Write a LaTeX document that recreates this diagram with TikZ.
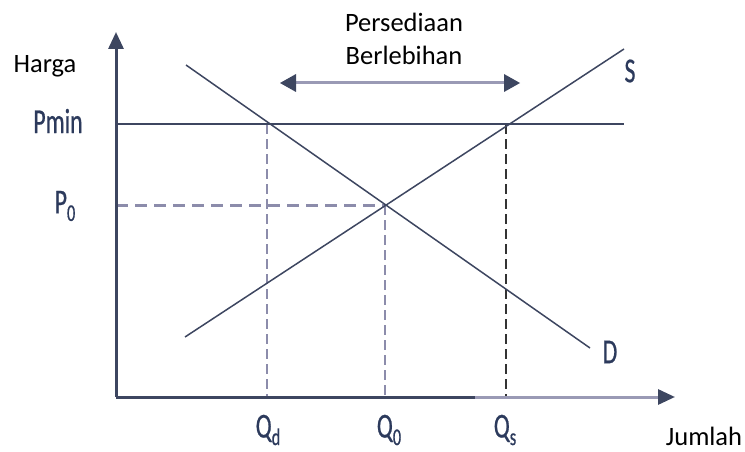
\documentclass[tikz,border=0pt]{standalone}
\usepackage{fontspec}
\setmainfont{Carlito}
\newfontfamily\condfont[FakeStretch=0.68,FakeBold=0.6]{Carlito}
\usetikzlibrary{arrows.meta,calc}
\definecolor{lineclr}{HTML}{3D4660}
\definecolor{labclr}{HTML}{2C3A5C}
\definecolor{lav}{HTML}{8C8CAB}
\definecolor{lavlight}{HTML}{9A9AB5}
\tikzset{
  axisline/.style={line width=3pt, lineclr},
  curve/.style={line width=1.5pt, lineclr},
  guide/.style={line width=2pt, lav, dash pattern=on 10pt off 5pt},
  guidethick/.style={line width=3pt, lav, dash pattern=on 12pt off 7pt},
  guidedark/.style={line width=1.2pt, black!80, dash pattern=on 10pt off 5pt},
  axlab/.style={font=\condfont\fontsize{35}{35}\selectfont, text=labclr, inner sep=0pt},
  txt/.style={font=\fontsize{26.5}{26.5}\selectfont, text=black, inner sep=0pt},
}
\newcommand{\mysub}[1]{\raisebox{-0.45ex}{\fontsize{24}{24}\selectfont #1}}
\begin{document}
\begin{tikzpicture}[x=1pt,y=-1pt]
\useasboundingbox (0,0) rectangle (745,452);
% coordinates
\coordinate (O) at (116,397);
\coordinate (ytop) at (116,32);
\coordinate (xend) at (675,397);
\coordinate (xsplit) at (475,397);
\coordinate (xlightend) at (658,397);
\coordinate (pminL) at (116,124);
\coordinate (pminR) at (624,124);
\coordinate (p0L) at (116,205);
\coordinate (E) at (385,205);
\coordinate (dA) at (186,65);
\coordinate (dB) at (590,348);
\coordinate (sA) at (185,337);
\coordinate (sB) at (624,49);
\coordinate (qdT) at (267,124);
\coordinate (qdB) at (267,397);
\coordinate (qsT) at (506,124);
\coordinate (qsB) at (506,397);
\coordinate (q0B) at (385,397);
\coordinate (arL) at (280,83);
\coordinate (arR) at (520,83);
% guides
\draw[guidethick] (p0L) -- (E);
\draw[guide] (qdT) -- (qdB);
\draw[guide] (E) -- (q0B);
\draw[guidedark] (qsT) -- (qsB);
% lines
\draw[curve] (pminL) -- (pminR);
\draw[curve] (dA) -- (dB);
\draw[curve] (sA) -- (sB);
% axes
\draw[axisline, -{Triangle[length=17pt,width=15pt]}] (O) -- (ytop);
\draw[axisline, -{Triangle[length=17pt,width=15pt]}] (O) -- (xend);
\draw[line width=3pt, lavlight] (xsplit) -- (xlightend);
% double arrow
\draw[line width=3pt, lavlight] ($(arL)+(14,0)$) -- ($(arR)+(-14,0)$);
\fill[lineclr] (arL) -- ++(16,-9) -- ++(0,18) -- cycle;
\fill[lineclr] (arR) -- ++(-16,-9) -- ++(0,18) -- cycle;
% labels
\node[txt] (harga) at (45,66) {Harga};
\node[txt] (pers) at (404,22) {Persediaan};
\node[txt] (berl) at (404,55) {Berlebihan};
\node[txt] (jumlah) at (704,436) {Jumlah};
\node[axlab] (pmin) at (58,121) {Pmin};
\node[axlab] (p0) at (65,206) {P\mysub{0}};
\node[axlab] (qd) at (268,430) {Q\mysub{d}};
\node[axlab] (q0) at (389,430) {Q\mysub{0}};
\node[axlab] (qs) at (505,430) {Q\mysub{s}};
\node[axlab] (S) at (630,71) {S};
\node[axlab] (D) at (610,352) {D};
\end{tikzpicture}
\end{document}
